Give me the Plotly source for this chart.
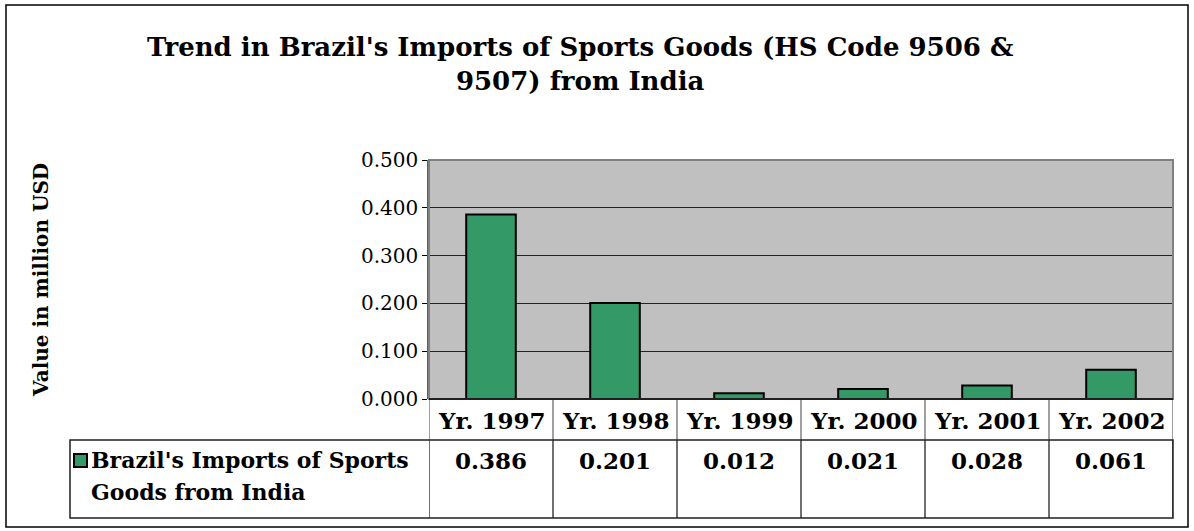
import plotly.graph_objects as go

categories = ["Yr. 1997", "Yr. 1998", "Yr. 1999", "Yr. 2000", "Yr. 2001", "Yr. 2002"]
values = [0.386, 0.201, 0.012, 0.021, 0.028, 0.061]
legend_lines = ["Brazil's Imports of Sports", "Goods from India"]
title_text = "Trend in Brazil's Imports of Sports Goods (HS Code 9506 &<br>9507) from India"
y_title = "Value in million USD"
y_ticks = [0.0, 0.1, 0.2, 0.3, 0.4, 0.5]

W, H = 1194, 531
PX0, PX1, PY0, PY1 = 429, 1173, 160, 399  # plot area in pixels
FONT = "DejaVu Serif"
GREEN = "#339966"


def px(x):
    return (x - PX0) / (PX1 - PX0)


def py(y):
    return (PY1 - y) / (PY1 - PY0)


n = len(categories)
xs = list(range(n))

fig = go.Figure()
fig.add_trace(go.Bar(
    x=xs, y=values, width=0.4, name=" ".join(legend_lines),
    marker=dict(color=GREEN, line=dict(color="black", width=2)),
    showlegend=False,
))

shapes = []
annotations = []

# outer border
shapes.append(dict(type="rect", xref="paper", yref="paper",
                   x0=px(6), x1=px(1188), y0=py(5), y1=py(527),
                   line=dict(color="black", width=1.5), layer="below"))
# plot-area border
shapes.append(dict(type="rect", xref="paper", yref="paper",
                   x0=0, x1=1, y0=0, y1=1,
                   line=dict(color="#808080", width=2)))

# table lines
ROW1_TOP, ROW1_BOT, ROW2_BOT = 399, 440, 518
for i in range(n + 1):
    shapes.append(dict(type="line", xref="x", yref="paper",
                       x0=i - 0.5, x1=i - 0.5, y0=py(ROW1_TOP), y1=py(ROW1_BOT),
                       line=dict(color="#808080", width=1.5)))
    shapes.append(dict(type="line", xref="x", yref="paper",
                       x0=i - 0.5, x1=i - 0.5, y0=py(ROW1_BOT), y1=py(ROW2_BOT),
                       line=dict(color="#404040", width=1.5)))
shapes.append(dict(type="rect", xref="paper", yref="paper",
                   x0=px(70), x1=1, y0=py(ROW2_BOT), y1=py(ROW1_BOT),
                   line=dict(color="#202020", width=1.5)))
# x-axis baseline
shapes.append(dict(type="line", xref="paper", yref="paper",
                   x0=0, x1=1, y0=0, y1=0, line=dict(color="black", width=1.5)))

# legend marker
shapes.append(dict(type="rect", xref="paper", yref="paper",
                   x0=px(74), x1=px(87), y0=py(467), y1=py(454),
                   fillcolor=GREEN, line=dict(color="black", width=2)))

TBL = 23
for i, (c, v) in enumerate(zip(categories, values)):
    annotations.append(dict(x=i, y=py(420), xref="x", yref="paper", text=f"<b>{c}</b>",
                            showarrow=False, xanchor="center", yanchor="middle",
                            font=dict(family=FONT, size=TBL, color="black")))
    annotations.append(dict(x=i, y=py(460), xref="x", yref="paper", text=f"<b>{v:.3f}</b>",
                            showarrow=False, xanchor="center", yanchor="middle",
                            font=dict(family=FONT, size=TBL, color="black")))

for k, line in enumerate(legend_lines):
    annotations.append(dict(x=px(89), y=py(460 + 32 * k), xref="paper", yref="paper",
                            text=f"<b>{line}</b>", showarrow=False,
                            xanchor="left", yanchor="middle", align="left",
                            font=dict(family=FONT, size=22, color="black")))

annotations.append(dict(x=px(580), y=py(64), xref="paper", yref="paper",
                        text=f"<b>{title_text}</b>", showarrow=False,
                        xanchor="center", yanchor="middle", align="center",
                        font=dict(family=FONT, size=26, color="black")))
annotations.append(dict(x=px(41), y=py(280), xref="paper", yref="paper",
                        text=f"<b>{y_title}</b>", showarrow=False, textangle=-90,
                        xanchor="center", yanchor="middle",
                        font=dict(family=FONT, size=20, color="black")))

fig.update_layout(
    width=W, height=H,
    margin=dict(l=PX0, r=W - PX1, t=PY0, b=H - PY1, pad=0),
    paper_bgcolor="white",
    plot_bgcolor="#C0C0C0",
    shapes=shapes,
    annotations=annotations,
    xaxis=dict(range=[-0.5, n - 0.5], showticklabels=False, showgrid=False,
               zeroline=False, ticks="", fixedrange=True),
    yaxis=dict(range=[0, 0.5], tickvals=y_ticks, tickformat=".3f",
               showgrid=True, gridcolor="#222222", gridwidth=1,
               zeroline=False, ticks="outside", ticklen=5, tickcolor="black",
               showline=True, linecolor="#606060", linewidth=1.5,
               tickfont=dict(family=FONT, size=20, color="black"), fixedrange=True),
)

fig.write_html("out.html", config={"displayModeBar": False},
               post_script="document.body.style.margin='0';document.body.style.padding='0';")
